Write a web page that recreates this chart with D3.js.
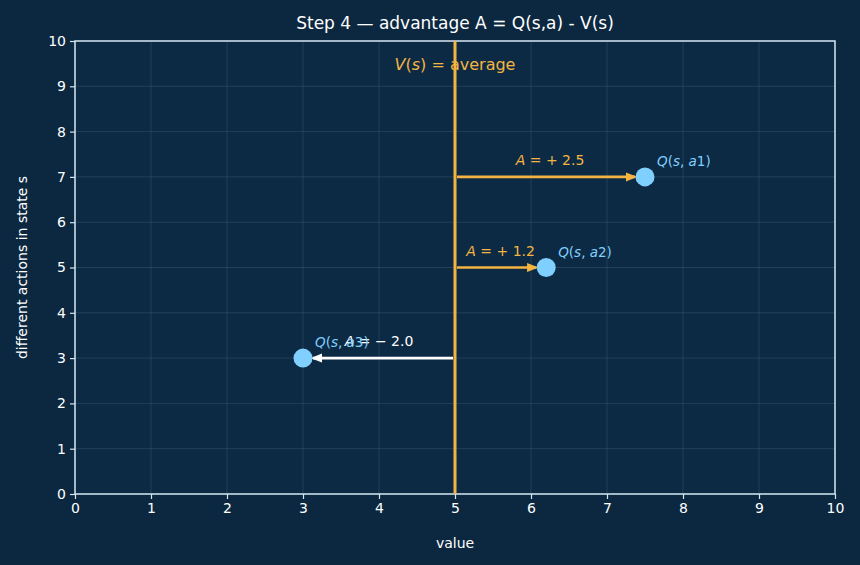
<!DOCTYPE html>
<html>
<head>
<meta charset="utf-8">
<script src="https://cdn.jsdelivr.net/npm/d3@7"></script>
<style>
  body { margin: 0; background: #0b2840; }
  svg { display: block; font-family: "DejaVu Sans", sans-serif; }
</style>
</head>
<body>
<svg id="chart" width="860" height="565"></svg>
<script>
const actions = ["a1", "a2", "a3"];
const qValues = [7.5, 6.2, 3.0];
const actionRows = [7, 5, 3];
const advantageLabels = ["+2.5", "+1.2", "\u22122.0"];
const vAverage = 5;
const ticks = [0, 1, 2, 3, 4, 5, 6, 7, 8, 9, 10];

const width = 860, height = 565;
const margin = {top: 41, right: 25, bottom: 71, left: 75};
const orange = "#f4b441";
const blue = "#7fd0ff";
const lineColor = "#d3e6f2";

const svg = d3.select("#chart");
svg.append("rect").attr("width", width).attr("height", height).attr("fill", "#0b2840");

const x = d3.scaleLinear().domain([0, 10]).range([margin.left, width - margin.right]);
const y = d3.scaleLinear().domain([0, 10]).range([height - margin.bottom, margin.top]);

svg.append("rect")
  .attr("x", x(0)).attr("y", y(10))
  .attr("width", x(10) - x(0)).attr("height", y(0) - y(10))
  .attr("fill", "#0d2a44");

// grid
svg.append("g").selectAll("line.gx").data(ticks).enter().append("line")
  .attr("x1", d => x(d)).attr("x2", d => x(d))
  .attr("y1", y(0)).attr("y2", y(10))
  .attr("stroke", "#3d5870").attr("stroke-width", 0.8).attr("opacity", 0.6);
svg.append("g").selectAll("line.gy").data(ticks).enter().append("line")
  .attr("y1", d => y(d)).attr("y2", d => y(d))
  .attr("x1", x(0)).attr("x2", x(10))
  .attr("stroke", "#3d5870").attr("stroke-width", 0.8).attr("opacity", 0.6);

// axes
const xAxis = svg.append("g")
  .attr("transform", `translate(0,${y(0)})`)
  .call(d3.axisBottom(x).tickValues(ticks).tickSize(5).tickPadding(4).tickFormat(d3.format("d")));
const yAxis = svg.append("g")
  .attr("transform", `translate(${x(0)},0)`)
  .call(d3.axisLeft(y).tickValues(ticks).tickSize(5).tickPadding(4).tickFormat(d3.format("d")));
[xAxis, yAxis].forEach(g => {
  g.select(".domain").remove();
  g.selectAll("line").attr("stroke", lineColor).attr("stroke-width", 1.2);
  g.selectAll("text").attr("fill", "#ffffff").style("font-size", "14px").style("font-family", "DejaVu Sans");
});

// frame
svg.append("rect")
  .attr("x", x(0)).attr("y", y(10))
  .attr("width", x(10) - x(0)).attr("height", y(0) - y(10))
  .attr("fill", "none").attr("stroke", lineColor).attr("stroke-width", 1.5);

// V(s) line
svg.append("line")
  .attr("x1", x(vAverage)).attr("x2", x(vAverage))
  .attr("y1", y(0)).attr("y2", y(10))
  .attr("stroke", orange).attr("stroke-width", 3);

const vText = svg.append("text")
  .attr("x", x(vAverage)).attr("y", y(9.4) + 2)
  .attr("text-anchor", "middle").attr("fill", orange).style("font-size", "16px");
vText.append("tspan").attr("font-style", "italic").text("V");
vText.append("tspan").text("(");
vText.append("tspan").attr("font-style", "italic").text("s");
vText.append("tspan").text(")  =  average");

// arrows
const defs = svg.append("defs");
[["head-orange", orange], ["head-white", "#ffffff"]].forEach(([id, c]) => {
  defs.append("marker")
    .attr("id", id).attr("viewBox", "0 0 10 10")
    .attr("refX", 8).attr("refY", 5)
    .attr("markerWidth", 4.4).attr("markerHeight", 4.4)
    .attr("markerUnits", "strokeWidth")
    .attr("orient", "auto")
    .append("path").attr("d", "M0,1 L10,5 L0,9 Z").attr("fill", c);
});

actions.forEach((a, i) => {
  const neg = qValues[i] < vAverage;
  const c = neg ? "#ffffff" : orange;
  const dir = neg ? -1 : 1;
  svg.append("line")
    .attr("x1", x(vAverage) + dir * 2).attr("x2", x(qValues[i]) - dir * 10)
    .attr("y1", y(actionRows[i])).attr("y2", y(actionRows[i]))
    .attr("stroke", c).attr("stroke-width", 2.6)
    .attr("marker-end", `url(#${neg ? "head-white" : "head-orange"})`);

  const t = svg.append("text")
    .attr("x", x((vAverage + qValues[i]) / 2))
    .attr("y", y(actionRows[i]) - 12)
    .attr("text-anchor", "middle").attr("fill", c).style("font-size", "14px");
  t.append("tspan").attr("font-style", "italic").text("A");
  t.append("tspan").text(" = " + advantageLabels[i].replace(/^(.)/, "$1 "));
});

svg.selectAll("circle.q").data(actions).enter().append("circle")
  .attr("cx", (d, i) => x(qValues[i])).attr("cy", (d, i) => y(actionRows[i]))
  .attr("r", 9.5).attr("fill", blue);

actions.forEach((a, i) => {
  const t = svg.append("text")
    .attr("x", x(qValues[i]) + 12).attr("y", y(actionRows[i]) - 11)
    .attr("fill", blue).style("font-size", "13.5px");
  t.append("tspan").attr("font-style", "italic").text("Q");
  t.append("tspan").text("(");
  t.append("tspan").attr("font-style", "italic").text("s");
  t.append("tspan").text(", ");
  t.append("tspan").attr("font-style", "italic").text(a.slice(0, 1));
  t.append("tspan").text(a.slice(1) + ")");
});

// labels
svg.append("text")
  .attr("x", (x(0) + x(10)) / 2).attr("y", 548)
  .attr("text-anchor", "middle").attr("fill", "#ffffff").style("font-size", "14px")
  .text("value");
svg.append("text")
  .attr("transform", `translate(27,${(y(0) + y(10)) / 2}) rotate(-90)`)
  .attr("text-anchor", "middle").attr("fill", "#ffffff").style("font-size", "14px")
  .text("different actions in state s");
svg.append("text")
  .attr("x", (x(0) + x(10)) / 2).attr("y", 29)
  .attr("text-anchor", "middle").attr("fill", "#ffffff").style("font-size", "17px")
  .text("Step 4 \u2014 advantage A = Q(s,a) - V(s)");
</script>
</body>
</html>
